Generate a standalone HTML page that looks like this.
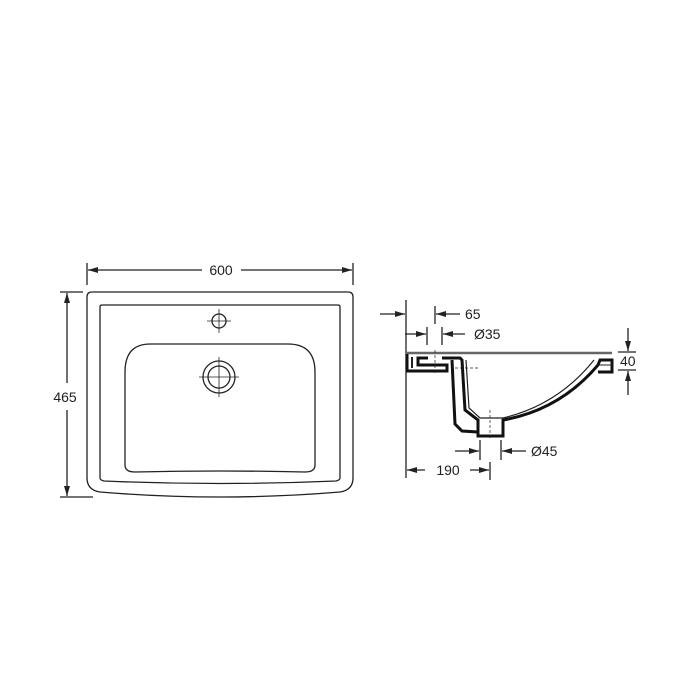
<!DOCTYPE html>
<html><head><style>
html,body{margin:0;padding:0;background:#fff;}
svg{display:block;}
text{font-family:"Liberation Sans",sans-serif;font-size:14px;fill:#222;}
</style></head><body>
<svg width="700" height="700" viewBox="0 0 700 700" xmlns="http://www.w3.org/2000/svg">
<defs><marker id="a" markerWidth="10" markerHeight="6" refX="10" refY="3" orient="auto" markerUnits="userSpaceOnUse"><path d="M0,0 L10,3 L0,6 z" fill="#222"/></marker></defs>
<g stroke="#222" fill="none" stroke-width="1.3">
<!-- top view -->
<path d="M92,292 L348,292 Q353,292 353,297 L353,478 Q353,490 340,492 Q220,502 100,492 Q87,490 87,478 L87,297 Q87,292 92,292 Z"/>
<path d="M102,305 L338,305 Q340,305 340,307 L340,478 Q340,480 336,481 Q220,486 104,481 Q100,480 100,478 L100,307 Q100,305 102,305 Z"/>
<path d="M150,344 L288,344 Q315,344 315,372 L315,465 Q315,472 305,472 Q220,470 135,472 Q125,472 125,465 L125,372 Q125,344 150,344 Z"/>
<circle cx="219" cy="321" r="7"/>
<circle cx="219" cy="377" r="16"/>
<circle cx="219" cy="377" r="11"/>
<g stroke-width="0.8"><line x1="207" y1="321" x2="231" y2="321"/><line x1="219" y1="309" x2="219" y2="333"/>
<line x1="199" y1="377" x2="239" y2="377"/><line x1="219" y1="357" x2="219" y2="397"/></g>
<!-- dims top view -->
<line x1="87" y1="263" x2="87" y2="285"/><line x1="353" y1="263" x2="353" y2="285"/>
<line x1="202" y1="270" x2="88" y2="270" marker-end="url(#a)"/>
<line x1="241" y1="270" x2="352" y2="270" marker-end="url(#a)"/>
<line x1="60" y1="292" x2="83" y2="292"/><line x1="60" y1="497" x2="93" y2="497"/>
<line x1="67" y1="383" x2="67" y2="293" marker-end="url(#a)"/>
<line x1="67" y1="410" x2="67" y2="496" marker-end="url(#a)"/>
<!-- side view -->
<line x1="406" y1="300" x2="406" y2="478"/>
<line x1="380" y1="314" x2="405" y2="314" marker-end="url(#a)"/>
<line x1="460" y1="314" x2="436" y2="314" marker-end="url(#a)"/>
<line x1="435" y1="306" x2="435" y2="324"/>
<line x1="427" y1="327" x2="427" y2="345"/><line x1="442" y1="327" x2="442" y2="345"/>
<line x1="405" y1="334" x2="426" y2="334" marker-end="url(#a)"/>
<line x1="465" y1="334" x2="443" y2="334" marker-end="url(#a)"/>
<line x1="480" y1="440" x2="480" y2="460"/><line x1="501" y1="440" x2="501" y2="460"/>
<line x1="455" y1="451" x2="479" y2="451" marker-end="url(#a)"/>
<line x1="526" y1="451" x2="502" y2="451" marker-end="url(#a)"/>
<line x1="490" y1="462" x2="490" y2="480"/>
<line x1="425" y1="470" x2="407" y2="470" marker-end="url(#a)"/>
<line x1="470" y1="470" x2="489" y2="470" marker-end="url(#a)"/>
<line x1="628" y1="328" x2="628" y2="351" marker-end="url(#a)"/>
<line x1="628" y1="395" x2="628" y2="371" marker-end="url(#a)"/>
<line x1="618" y1="352" x2="636" y2="352"/><line x1="618" y1="370" x2="636" y2="370"/>
<!-- basin section -->
<line x1="407" y1="353" x2="612" y2="353" stroke-width="2.5" stroke="#666"/>
<path d="M407,354 L407,371 L447,371 L447,365 L418,365 L418,358 L428,358" stroke-width="3" stroke="#111"/>
<path d="M412,357 L412,368" stroke-width="2"/>
<path d="M442,358 L460,358 L462,360 L465,410 L478,420 L478,436 L503,436 L503,420 Q560,410 598,365 L600,360 L612,360 L612,372 L598,372" stroke-width="3" stroke="#111"/>
<path d="M452,360 L455,424 L462,431 L478,432" stroke-width="3" stroke="#111"/>
<path d="M466,360 L469,408 L480,418 L503,418 Q558,405 594,360" stroke-width="1.2"/>
<path d="M598,365 L612,365" stroke-width="1"/>
<g stroke-width="0.7" stroke-dasharray="3,2"><line x1="435" y1="350" x2="435" y2="375"/><line x1="490" y1="410" x2="490" y2="440"/><line x1="455" y1="368" x2="480" y2="368"/></g>
</g>
<text x="221" y="275" text-anchor="middle">600</text>
<text x="65" y="402" text-anchor="middle">465</text>
<text x="465" y="319">65</text>
<text x="474" y="339">Ø35</text>
<text x="531" y="456">Ø45</text>
<text x="448" y="475" text-anchor="middle">190</text>
<text x="620" y="366">40</text>
</svg>
</body></html>
